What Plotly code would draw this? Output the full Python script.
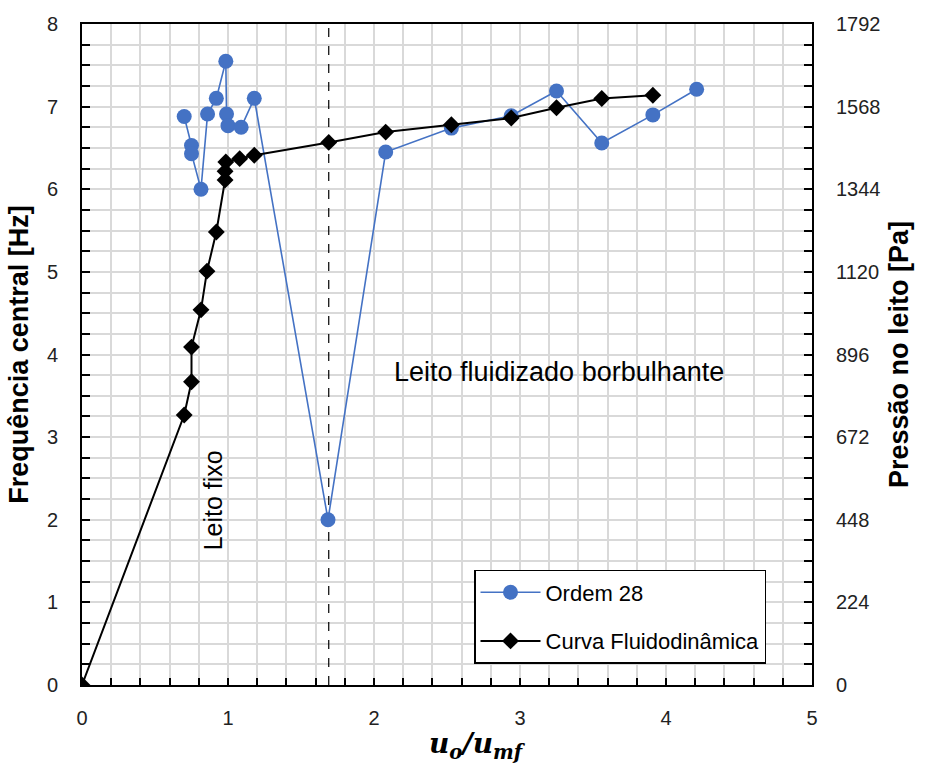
import plotly.graph_objects as go

# Ordem 28 (central frequency, Hz)
ordem_x = [0.70, 0.75, 0.75, 0.815, 0.86, 0.92, 0.985, 0.99, 1.00, 1.09, 1.18, 1.685, 2.08, 2.53, 2.94, 3.25, 3.56, 3.91, 4.21]
ordem_y = [6.88, 6.53, 6.43, 6.00, 6.91, 7.10, 7.55, 6.91, 6.77, 6.75, 7.10, 2.00, 6.45, 6.74, 6.89, 7.19, 6.56, 6.90, 7.21]

# Curva Fluidodinamica (bed pressure, Pa)
curva_x = [0.0, 0.70, 0.75, 0.75, 0.815, 0.856, 0.92, 0.98, 0.98, 0.985, 1.08, 1.18, 1.69, 2.08, 2.53, 2.94, 3.25, 3.56, 3.91]
curva_y = [0, 732, 822, 916, 1017, 1122, 1228, 1369, 1393, 1418, 1427, 1436, 1471, 1499, 1519, 1537, 1565, 1590, 1599]

transition_x = 1.69

x_ticks = [0, 1, 2, 3, 4, 5]
y_left_ticks = [0, 1, 2, 3, 4, 5, 6, 7, 8]
y_right_ticks = [0, 224, 448, 672, 896, 1120, 1344, 1568, 1792]

BLUE = "#4472C4"
GRID = "#d9d9d9"
FONT = "Liberation Sans"

fig = go.Figure()

fig.add_trace(go.Scatter(
    x=[transition_x, transition_x], y=[0, 8], mode="lines",
    line=dict(color="black", width=1.2, dash="dash"),
    showlegend=False, hoverinfo="skip"))

fig.add_trace(go.Scatter(
    x=ordem_x, y=ordem_y, mode="lines+markers", name="Ordem 28",
    legendgroup="a",
    line=dict(color=BLUE, width=1.6),
    marker=dict(symbol="circle", size=15, color=BLUE)))

fig.add_trace(go.Scatter(
    x=curva_x, y=curva_y, mode="lines+markers", name="Curva Fluidodinâmica",
    legendgroup="b", yaxis="y2",
    line=dict(color="black", width=2),
    marker=dict(symbol="diamond", size=13, color="black")))

axis_font = dict(family=FONT, size=20, color="#222")

fig.update_layout(
    width=928, height=765,
    margin=dict(l=82, r=116, t=24, b=80),
    plot_bgcolor="white", paper_bgcolor="white",
    font=dict(family=FONT, size=20, color="black"),
    xaxis=dict(
        range=[0, 5], tickvals=x_ticks, ticktext=[str(v) for v in x_ticks],
        showgrid=True, gridcolor=GRID, gridwidth=2,
        minor=dict(dtick=0.2, showgrid=True, gridcolor=GRID, gridwidth=2,
                   ticks="inside", ticklen=7, tickcolor="black", tickwidth=1.5),
        ticks="inside", ticklen=7, tickwidth=1.5, tickcolor="black",
        showline=True, linecolor="black", linewidth=2, mirror=True,
        zeroline=False, tickfont=axis_font, ticklabelstandoff=14,
    ),
    yaxis=dict(
        range=[0, 8], tickvals=y_left_ticks, ticktext=[str(v) for v in y_left_ticks],
        showgrid=True, gridcolor=GRID, gridwidth=2,
        minor=dict(dtick=0.25, showgrid=True, gridcolor=GRID, gridwidth=2,
                   ticks="inside", ticklen=8, tickcolor="black", tickwidth=1.5),
        ticks="inside", ticklen=8, tickwidth=1.5, tickcolor="black",
        showline=True, linecolor="black", linewidth=2,
        zeroline=False, tickfont=axis_font, ticklabelstandoff=18,
        title=dict(text="<b>Frequência central [Hz]</b>",
                   font=dict(family=FONT, size=27, color="black"), standoff=10),
    ),
    yaxis2=dict(
        range=[0, 1792], tickvals=y_right_ticks, ticktext=[str(v) for v in y_right_ticks],
        overlaying="y", side="right", showgrid=False,
        minor=dict(dtick=56, ticks="inside", ticklen=8, tickcolor="black", tickwidth=1.5, showgrid=False),
        ticks="inside", ticklen=8, tickwidth=1.5, tickcolor="black",
        showline=True, linecolor="black", linewidth=2,
        zeroline=False, tickfont=axis_font, ticklabelstandoff=18,
        title=dict(text="<b>Pressão no leito [Pa]</b>",
                   font=dict(family=FONT, size=27, color="black"), standoff=10),
    ),
    legend=dict(
        x=0.537, y=0.174, xanchor="left", yanchor="top",
        bgcolor="white", bordercolor="black", borderwidth=1.5,
        font=dict(family=FONT, size=22, color="black"),
        itemwidth=60, traceorder="grouped", tracegroupgap=17,
    ),
    annotations=[
        dict(text="Leito fluidizado borbulhante", x=3.27, y=3.79, xref="x", yref="y",
             showarrow=False, font=dict(family=FONT, size=27, color="black")),
        dict(text="Leito fixo", x=0.9, y=2.24, xref="x", yref="y", textangle=-90,
             showarrow=False, font=dict(family=FONT, size=25, color="black")),
        dict(text="<b><i>u<sub>o</sub>/u<sub>mf</sub></i></b>", x=0.542, y=-0.091,
             xref="paper", yref="paper", xanchor="center", yanchor="middle",
             showarrow=False, font=dict(family="DejaVu Serif", size=28, color="black")),
    ],
)

fig.write_html("out.html")
